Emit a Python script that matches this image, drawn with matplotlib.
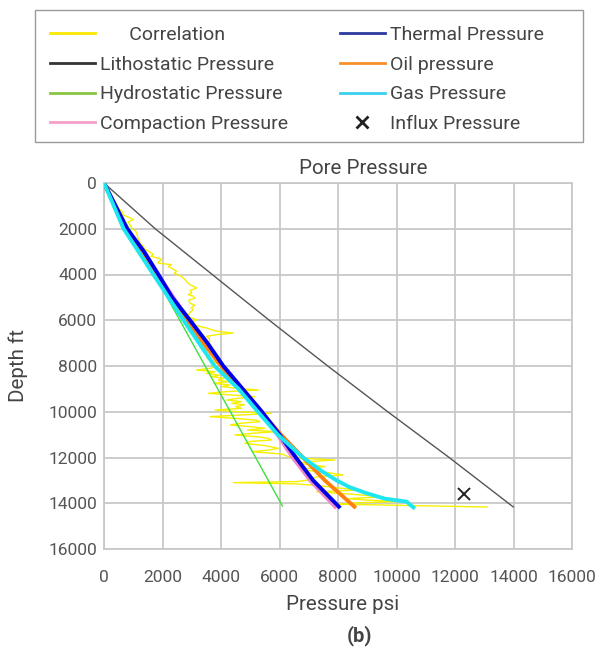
import matplotlib
matplotlib.use("Agg")
import matplotlib.pyplot as plt
from matplotlib.lines import Line2D
from matplotlib.patches import Rectangle

plt.rcParams['font.family'] = ['Roboto', 'DejaVu Sans']

# ---- data (depth in ft, pressure in psi) ----
litho_depth = [0, 2000, 4000, 6000, 8000, 10000, 12000, 14160]
litho_psi = [0, 1750, 3700, 5650, 7650, 9700, 11800, 13990]

hydro_depth = [0, 14120]
hydro_psi = [0, 6100]

thermal_depth = [0, 2000, 3000, 4000, 5000, 6000, 7000, 8000, 9000, 10000, 11000, 12000, 13000, 14150]
thermal_psi = [0, 790, 1370, 1860, 2330, 2940, 3540, 4080, 4740, 5400, 6000, 6560, 7150, 8030]

compaction_depth = [0, 2000, 4000, 6000, 8000, 10000, 11000, 12000, 13000, 14150]
compaction_psi = [0, 780, 1840, 2900, 4050, 5350, 5930, 6450, 7050, 7900]

oil_depth = [0, 2000, 4000, 6000, 8000, 9000, 10000, 11000, 12000, 13000, 14150]
oil_psi = [0, 760, 1700, 2800, 4000, 4650, 5370, 6050, 6800, 7550, 8560]

gas_depth = [0, 2000, 4000, 6000, 8000, 9000, 10000, 11000, 12000, 12600, 13000,
             13300, 13550, 13800, 13930, 14050, 14180]
gas_psi = [0, 670, 1690, 2720, 3780, 4600, 5260, 5940, 6800, 7450, 7950,
           8400, 8950, 9600, 10350, 10450, 10580]

corr_depth = [0, 300, 600, 900, 1100, 1250, 1400, 1500, 1600, 1700, 1850, 1970,
              2100, 2200, 2350, 2500, 2620, 2750, 2900, 3000, 3130, 3200, 3300,
              3353, 3450, 3500, 3570, 3650, 3750, 3860, 3950, 4050, 4150, 4230,
              4350, 4450, 4590, 4700, 4800, 4880, 4950, 5030, 5120, 5250, 5350,
              5450, 5540, 5650, 5830, 5900, 5975, 6100, 6190, 6280, 6340, 6420,
              6480, 6560, 6620, 6700, 6800, 6920, 7050, 7210, 7300, 7360, 7500,
              7650, 7750, 7870, 7950, 8090, 8175, 8250, 8320, 8400, 8466, 8540,
              8612, 8690, 8757, 8830, 8904, 8970, 9049, 9120, 9194, 9270, 9341,
              9410, 9486, 9560, 9632, 9700, 9778, 9850, 9923, 10000, 10069, 10140,
              10215, 10300, 10370, 10434, 10500, 10579, 10650, 10725, 10800, 10871,
              10940, 11016, 11100, 11160, 11235, 11300, 11381, 11480, 11599, 11680,
              11745, 11850, 11964, 12040, 12109, 12180, 12255, 12330, 12401, 12470,
              12546, 12650, 12765, 12840, 12911, 12980, 13050, 13100, 13150, 13202,
              13280, 13348, 13421, 13494, 13600, 13713, 13800, 13858, 13930, 13980,
              14040, 14164]
corr_psi = [0, 120, 280, 420, 500, 620, 660, 850, 1000, 830, 900, 950,
            1080, 1120, 1150, 1200, 1230, 1330, 1400, 1550, 1690, 1600, 1900,
            1970, 1860, 1850, 2310, 2200, 2350, 2480, 2400, 2600, 2710, 2770,
            2850, 2950, 3170, 2950, 3000, 2880, 3050, 3110, 2900, 2940, 3100,
            2980, 3050, 2950, 2830, 3000, 3170, 3000, 3050, 3300, 3510, 3700,
            3850, 4420, 3900, 3510, 3600, 3620, 3450, 3280, 3550, 3740, 3600,
            3510, 3700, 3850, 3750, 3680, 3170, 3800, 3500, 3950, 3680, 4100,
            3900, 4250, 3750, 4300, 4050, 4500, 5280, 4200, 3570, 4400, 5160,
            4600, 4200, 4700, 4370, 4800, 4500, 4700, 3800, 4600, 5730, 4700,
            3620, 4600, 5200, 5330, 4700, 4310, 5000, 5500, 4900, 5900,
            5100, 4480, 5300, 5600, 5730, 5000, 4820, 5500, 5960, 5600,
            5050, 6100, 6300, 6800, 7900, 7000, 6640, 7200, 7560, 7000,
            6760, 7600, 8180, 7300, 7100, 7000, 6600, 4420, 6500, 7100,
            7700, 8130, 8750, 7270, 8400, 9550, 8300, 8980, 10010, 8600,
            8000, 13100]

influx_depth = [13600]
influx_psi = [12300]

axis_ticks = list(range(0, 16001, 2000))

# ---- figure ----
W, H = 611, 650
fig = plt.figure(figsize=(W / 100, H / 100), dpi=100)
ax = fig.add_axes([104 / W, 1 - 549 / H, 468 / W, 366 / H])

grid_c = '#c8c8c8'
ax.set_xlim(0, 16000)
ax.set_ylim(16000, 0)
ax.set_xticks(axis_ticks)
ax.set_yticks(axis_ticks)
ax.grid(True, color=grid_c, lw=1.3)
ax.set_axisbelow(True)
for s in ax.spines.values():
    s.set_color(grid_c)
    s.set_linewidth(1.3)
ax.tick_params(axis='both', length=0, labelsize=12.5, colors='#555555')
ax.tick_params(axis='x', pad=15)
ax.tick_params(axis='y', pad=5)

ax.plot(corr_psi, corr_depth, color='#f5f000', lw=1.0, zorder=2)
ax.plot(litho_psi, litho_depth, color='#555555', lw=1.0, zorder=3)
ax.plot(hydro_psi, hydro_depth, color='#3ee03e', lw=1.0, zorder=3)
ax.plot(compaction_psi, compaction_depth, color='#f088c8', lw=2.8, zorder=4)
ax.plot(oil_psi, oil_depth, color='#ff7f10', lw=2.8, zorder=5)
ax.plot(thermal_psi, thermal_depth, color='#0000e6', lw=2.8, zorder=6)
ax.plot(gas_psi, gas_depth, color='#1ee6f0', lw=2.8, zorder=7)
ax.plot(influx_psi, influx_depth, 'x', color='#222222', ms=8, mew=1.4, zorder=8)

txt_c = '#444444'
fig.text(363 / W, 1 - 168 / H, 'Pore Pressure', ha='center', va='center',
         fontsize=14.8, color=txt_c)
fig.text(343 / W, 1 - 604 / H, 'Pressure psi', ha='center', va='center',
         fontsize=14.8, color=txt_c)
fig.text(18 / W, 1 - 365 / H, 'Depth ft', ha='center', va='center',
         rotation=90, fontsize=14.8, color=txt_c)
fig.text(360 / W, 1 - 636 / H, '(b)', ha='center', va='center',
         fontsize=14.5, fontweight='bold', color=txt_c)

# ---- legend ----
handles = [
    Line2D([], [], color='#fbe800', lw=2),
    Line2D([], [], color='#333333', lw=2),
    Line2D([], [], color='#88c540', lw=2),
    Line2D([], [], color='#f59fc8', lw=2),
    Line2D([], [], color='#2b3a9e', lw=2),
    Line2D([], [], color='#f7902a', lw=2),
    Line2D([], [], color='#3ccfef', lw=2),
    Line2D([], [], color='#222222', ls='none', marker='x', ms=9, mew=2),
]
labels = ['      Correlation', 'Lithostatic Pressure', 'Hydrostatic Pressure',
          'Compaction Pressure', 'Thermal Pressure', 'Oil pressure',
          'Gas Pressure', 'Influx Pressure']
leg = fig.legend(handles, labels, loc='upper left',
                 bbox_to_anchor=(50 / W, 1 - 26 / H), ncol=2, frameon=False,
                 borderpad=0, borderaxespad=0, handlelength=2.3,
                 handletextpad=0.26, columnspacing=2.68, labelspacing=0.6,
                 fontsize=14)
for t in leg.get_texts():
    t.set_color(txt_c)
fig.patches.append(Rectangle((35 / W, 1 - 142 / H), 548 / W, 132 / H,
                             transform=fig.transFigure, fill=False,
                             edgecolor='#9a9a9a', lw=1.0))

fig.savefig('out.png', dpi=100, facecolor='white')
